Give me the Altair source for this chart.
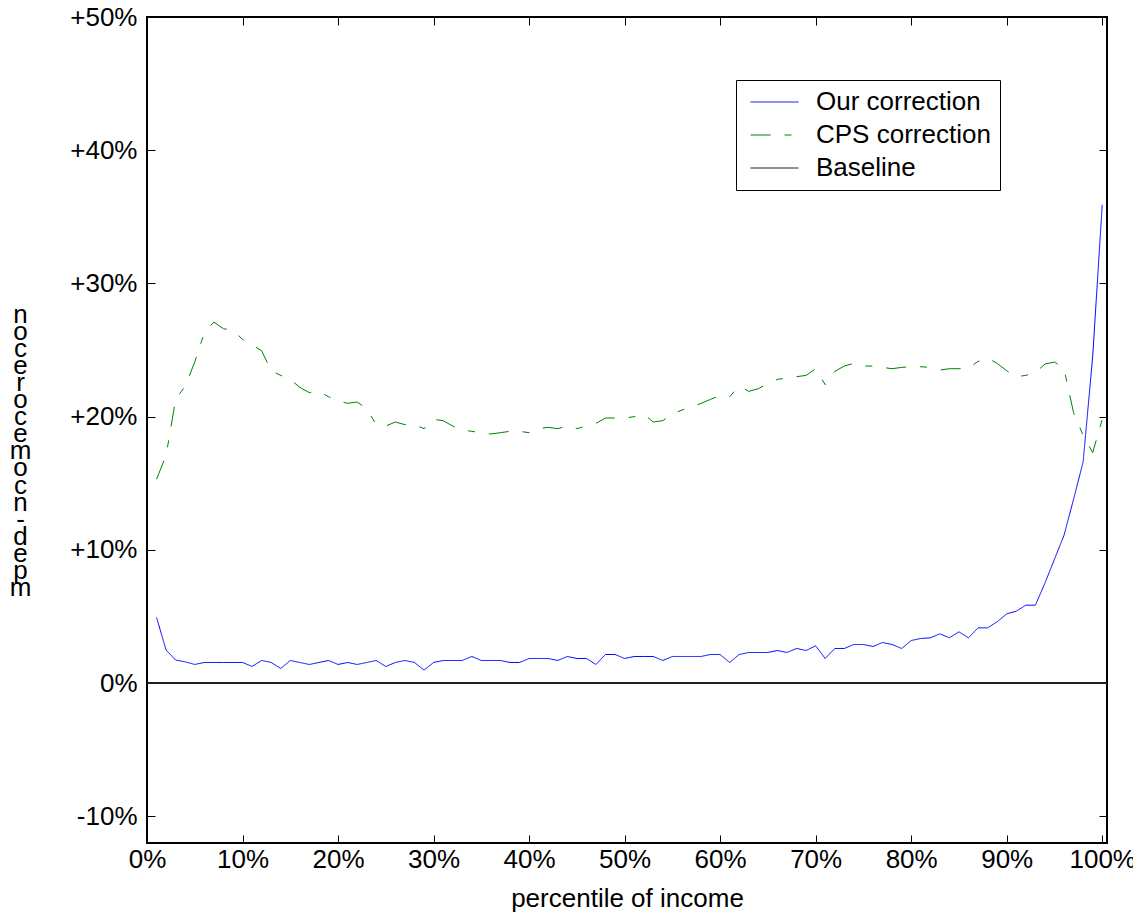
import altair as alt
import pandas as pd

percentiles = list(range(1, 101))

our_correction = [4.93, 2.48, 1.73, 1.6, 1.4, 1.55, 1.55, 1.55, 1.55, 1.55,
                  1.25, 1.7, 1.55, 1.1, 1.7, 1.55, 1.4, 1.55, 1.7, 1.4,
                  1.55, 1.4, 1.55, 1.7, 1.25, 1.55, 1.7, 1.55, 0.98, 1.55,
                  1.7, 1.7, 1.7, 2.0, 1.7, 1.7, 1.7, 1.55, 1.55, 1.85,
                  1.85, 1.85, 1.7, 2.0, 1.85, 1.85, 1.4, 2.15, 2.15, 1.85,
                  2.0, 2.0, 2.0, 1.7, 2.0, 2.0, 2.0, 2.0, 2.15, 2.15,
                  1.55, 2.15, 2.3, 2.3, 2.3, 2.45, 2.3, 2.6, 2.45, 2.8,
                  1.85, 2.6, 2.6, 2.9, 2.9, 2.75, 3.05, 2.9, 2.6, 3.2,
                  3.35, 3.4, 3.7, 3.4, 3.85, 3.4, 4.15, 4.15, 4.6, 5.2,
                  5.4, 5.85, 5.85, 7.5, 9.3, 11.1, 13.8, 16.6, 24.5, 35.9]

cps_correction = [15.3, 17.1, 21.3, 22.3, 24.1, 26.3, 27.1, 26.6, 26.5, 25.8,
                  25.4, 24.95, 23.45, 23.1, 22.8, 22.2, 21.8, 21.9, 21.5, 21.2,
                  21.0, 21.1, 20.6, 19.4, 19.3, 19.6, 19.4, 19.4, 19.1, 19.8,
                  19.7, 19.3, 19.0, 18.9, 18.8, 18.7, 18.8, 18.9, 18.9, 18.8,
                  19.1, 19.2, 19.1, 19.3, 19.1, 19.3, 19.5, 19.9, 19.9, 19.9,
                  20.0, 20.2, 19.6, 19.7, 20.2, 20.5, 20.7, 21.0, 21.3, 21.6,
                  21.5, 22.3, 21.9, 22.1, 22.5, 22.8, 22.9, 23.0, 23.1, 23.6,
                  22.4, 23.4, 23.8, 24.0, 23.8, 23.8, 23.7, 23.6, 23.7, 23.75,
                  23.75, 23.7, 23.5, 23.6, 23.6, 23.65, 24.15, 24.4, 24.0, 23.45,
                  23.0, 23.1, 23.3, 23.95, 24.1, 23.6, 20.3, 18.6, 17.3, 19.8]

baseline = [0.0] * 100

series_names = ["Our correction", "CPS correction", "Baseline"]
series_colors = ["#0000ff", "#008000", "#000000"]
series_dashes = [[1, 0], [20, 14, 7, 14], [1, 0]]

x_ticks = [0, 10, 20, 30, 40, 50, 60, 70, 80, 90, 100]
y_ticks = [-10, 0, 10, 20, 30, 40, 50]

y_title_glyphs = ["n", "o", "c", "e", "r", "o", "c", "e", "m", "o", "c",
                  "n", "-", "d", "e", "p", "m"]

rows = []
for name, vals in zip(series_names, [our_correction, cps_correction, baseline]):
    for p, v in zip(percentiles, vals):
        rows.append({"percentile": p, "value": v, "series": name})
df = pd.DataFrame(rows)

FONT = "Liberation Sans"
FS = 26
x_scale = alt.Scale(domain=[0, 100.5], nice=False, zero=False)
y_scale = alt.Scale(domain=[-12, 50], nice=False, zero=False)
color_scale = alt.Scale(domain=series_names, range=series_colors)
dash_scale = alt.Scale(domain=series_names, range=series_dashes)

legend = alt.Legend(
    title=None, orient="none", legendX=589, legendY=63,
    strokeColor="black", fillColor="white", padding=9, symbolOffset=5,
    labelFont=FONT, labelFontSize=FS, labelColor="black", labelOffset=17,
    labelExpr="datum.label + '\u00a0\u00a0\u00a0\u00a0\u00a0'",
    symbolType="stroke", symbolSize=2304, symbolStrokeWidth=1,
    clipHeight=26, rowPadding=7, labelLimit=400,
)

base = alt.Chart(df)

x_main = alt.X("percentile:Q", scale=x_scale, axis=alt.Axis(
    values=x_ticks, labelExpr="datum.value + '%'", offset=-8, tickSize=8,
    domain=False, grid=False, tickColor="black", labelFont=FONT,
    labelFontSize=FS, labelColor="black", labelPadding=3, labelFlush=False,
    title="percentile of income", titleFont=FONT, titleFontSize=FS,
    titleFontWeight="normal", titleColor="black", titlePadding=13))
y_main = alt.Y("value:Q", scale=y_scale, axis=alt.Axis(
    values=y_ticks,
    labelExpr="(datum.value > 0 ? '+' : '') + datum.value + '%'",
    offset=-8, tickSize=8, domain=False, grid=False, tickColor="black",
    labelFont=FONT, labelFontSize=FS, labelColor="black", labelPadding=10,
    title=y_title_glyphs, titleAngle=0, titleAlign="center",
    titleBaseline="top", titleLineHeight=17.1, titleFont=FONT,
    titleFontSize=FS, titleFontWeight="normal", titleColor="black",
    titleX=-135, titleY=284))

x_none = alt.X("percentile:Q", scale=x_scale, axis=None)
y_none = alt.Y("value:Q", scale=y_scale, axis=None)

color_enc = alt.Color("series:N", scale=color_scale, legend=legend)
dash_enc = alt.StrokeDash("series:N", scale=dash_scale, legend=legend)

green = base.transform_filter(alt.datum.series == "CPS correction").mark_line(
    strokeWidth=1).encode(x=x_main, y=y_main, color=color_enc, strokeDash=dash_enc)
blue = base.transform_filter(alt.datum.series == "Our correction").mark_line(
    strokeWidth=1).encode(x=x_none, y=y_none, color=color_enc, strokeDash=dash_enc)
black = base.transform_filter(alt.datum.series == "Baseline").mark_line(
    strokeWidth=1).encode(x=x_none, y=y_none, color=color_enc, strokeDash=dash_enc)
rule = base.transform_filter(alt.datum.series == "Baseline").mark_rule(
    color="#222222", strokeWidth=1).encode(y=y_none)

ghost = base.transform_filter(alt.datum.series == "Baseline").mark_line(
    opacity=0).encode(
    x=alt.X("percentile:Q", scale=x_scale, axis=alt.Axis(
        orient="top", values=x_ticks, labels=False, offset=-8, tickSize=8,
        domain=False, grid=False, tickColor="black", title=None)),
    y=alt.Y("value:Q", scale=y_scale, axis=alt.Axis(
        orient="right", values=y_ticks, labels=False, offset=-8, tickSize=8,
        domain=False, grid=False, tickColor="black", title=None)),
)

chart = alt.layer(green, blue, black, rule, ghost).resolve_axis(
    x="independent", y="independent"
).properties(
    width=960, height=826,
    background="white",
    autosize=alt.AutoSizeParams(type="none"),
    padding={"left": 139, "top": 9, "right": 26, "bottom": 69},
).configure_view(
    stroke="black", strokeWidth=2
)

chart.save("out.html", embed_options={"renderer": "svg", "actions": False})
